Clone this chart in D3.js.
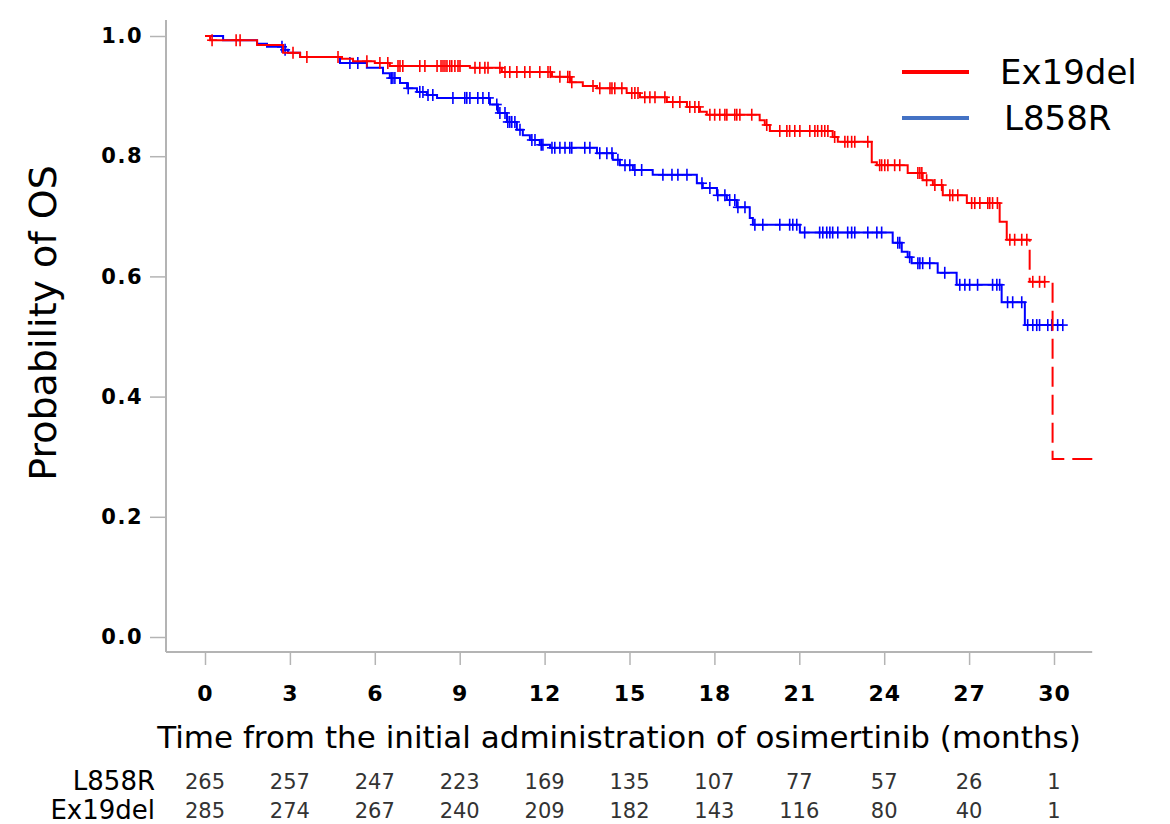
<!DOCTYPE html>
<html>
<head>
<meta charset="utf-8">
<script src="https://cdn.jsdelivr.net/npm/d3@7"></script>
<style>
  html, body { margin: 0; padding: 0; background: #fff; }
  svg { display: block; }
  text { font-family: "DejaVu Sans", Verdana, sans-serif; }
</style>
</head>
<body>
<svg id="chart" width="1170" height="824"></svg>
<script>
// ---------------- data ----------------
const monthTicks = [0, 3, 6, 9, 12, 15, 18, 21, 24, 27, 30];
const probTicks = [0, 0.2, 0.4, 0.6, 0.8, 1.0];

// Ex19del: [time (months), survival after event]
const ex19delSteps = [
  [0, 1.0], [0.18, 0.993], [1.84, 0.985], [2.76, 0.972], [3.36, 0.965],
  [4.84, 0.962], [5.23, 0.958], [6.0, 0.955], [6.53, 0.950], [9.36, 0.947],
  [10.49, 0.940], [12.26, 0.932], [12.9, 0.923], [13.35, 0.917], [13.85, 0.913],
  [14.9, 0.905], [15.37, 0.898], [16.32, 0.890], [17.03, 0.882], [17.49, 0.874],
  [17.73, 0.869], [19.6, 0.860], [19.78, 0.852], [19.96, 0.842], [22.18, 0.832],
  [22.36, 0.824], [23.56, 0.790], [23.74, 0.785], [24.83, 0.772], [25.36, 0.760],
  [25.72, 0.752], [26.07, 0.735], [26.92, 0.722], [28.08, 0.691], [28.33, 0.661]
];
const ex19delSolidEnd = 29.14;
const ex19delTail = [[29.14, 0.591], [29.95, 0.296]];
const ex19delEnd = 31.37;
const ex19delCensor = [
  0.25, 1.10, 1.24, 3.11, 3.60, 4.70, 5.72, 6.18, 6.46, 6.82, 6.89, 6.99, 7.59, 7.77,
  8.20, 8.34, 8.41, 8.48, 8.55, 8.65, 8.72, 8.83, 8.94, 9.01, 9.54, 9.71, 9.89, 10.00,
  10.42, 10.60, 10.77, 11.02, 11.30, 11.48, 11.83, 12.12, 12.20, 12.54, 12.82, 12.89,
  12.96, 13.71, 13.95, 14.31, 14.38, 14.48, 14.73, 15.08, 15.19, 15.30, 15.54, 15.72,
  15.90, 16.25, 16.53, 16.78, 17.13, 17.31, 17.45, 17.84, 18.01, 18.19, 18.37, 18.44,
  18.72, 18.79, 18.90, 19.32, 19.85, 20.31, 20.56, 20.66, 20.84, 21.02, 21.37, 21.55,
  21.65, 21.79, 21.90, 22.01, 22.25, 22.61, 22.71, 22.85, 22.96, 23.42, 23.84, 23.91,
  24.02, 24.13, 24.37, 24.55, 25.19, 25.26, 25.33, 25.50, 25.79, 26.03, 26.32, 26.42,
  26.60, 27.09, 27.20, 27.38, 27.66, 27.73, 27.83, 28.00, 28.44, 28.61, 28.86, 29.04,
  29.25, 29.49, 29.67
];

// L858R
const l858rSteps = [
  [0, 1.0], [0.64, 0.993], [1.84, 0.987], [2.19, 0.982], [2.76, 0.977], [2.93, 0.972],
  [3.36, 0.965], [4.77, 0.955], [5.72, 0.947], [6.29, 0.938], [6.53, 0.930],
  [6.89, 0.922], [7.14, 0.913], [7.49, 0.907], [7.84, 0.902], [8.20, 0.897],
  [10.07, 0.886], [10.35, 0.872], [10.67, 0.857], [11.02, 0.844], [11.23, 0.835],
  [11.48, 0.827], [11.83, 0.819], [12.19, 0.814], [13.85, 0.805], [14.41, 0.794],
  [14.66, 0.785], [15.12, 0.777], [15.82, 0.769], [17.38, 0.755], [17.59, 0.747],
  [18.09, 0.735], [18.44, 0.727], [18.79, 0.715], [19.25, 0.697], [19.36, 0.686],
  [21.02, 0.673], [24.30, 0.656], [24.62, 0.641], [24.83, 0.632], [24.97, 0.622],
  [25.89, 0.606], [26.56, 0.586], [28.15, 0.557], [28.97, 0.519]
];
const l858rEnd = 30.31;
const l858rCensor = [
  2.72, 2.83, 5.12, 5.40, 6.58, 6.64, 6.71, 7.18, 7.59, 7.70, 7.88, 8.05, 8.76, 9.18,
  9.25, 9.36, 9.64, 9.82, 10.03, 10.31, 10.42, 10.60, 10.70, 10.77, 10.84, 10.95,
  11.13, 11.55, 11.66, 11.88, 11.94, 12.26, 12.36, 12.54, 12.72, 12.89, 12.96, 13.42,
  13.60, 13.95, 14.20, 14.38, 14.59, 14.84, 15.01, 15.19, 15.43, 16.18, 16.50, 16.71,
  17.03, 17.56, 17.84, 18.12, 18.37, 18.54, 18.72, 18.83, 19.08, 19.43, 19.71, 20.31,
  20.66, 20.77, 20.91, 21.19, 21.72, 21.83, 21.97, 22.08, 22.18, 22.36, 22.71, 22.85,
  22.96, 23.42, 23.74, 23.91, 24.48, 24.55, 24.90, 25.19, 25.26, 25.36, 25.61, 26.14,
  26.67, 26.85, 27.02, 27.30, 27.83, 27.98, 28.08, 28.36, 28.54, 28.86, 29.07, 29.25,
  29.39, 29.49, 29.78, 29.92, 30.13, 30.31
];

const riskLabels = ["L858R", "Ex19del"];
const atRiskL858R = [265, 257, 247, 223, 169, 135, 107, 77, 57, 26, 1];
const atRiskEx19del = [285, 274, 267, 240, 209, 182, 143, 116, 80, 40, 1];

const legendNames = ["Ex19del", "L858R"];

// ---------------- drawing ----------------
const svg = d3.select("#chart");
const RED = "#ff0000", BLUE = "#0000ff", LEG_BLUE = "#4472c4", AXIS = "#b4b4b4";

const x = d3.scaleLinear().domain([0, 30]).range([205, 1054]);
const y = d3.scaleLinear().domain([0, 1]).range([637, 36]);

// axes
const yAxisX = 166, xAxisY = 652;
svg.append("line").attr("x1", yAxisX).attr("x2", yAxisX).attr("y1", 20).attr("y2", xAxisY)
  .attr("stroke", AXIS).attr("stroke-width", 2);
svg.append("line").attr("x1", yAxisX).attr("x2", x(31.35)).attr("y1", xAxisY).attr("y2", xAxisY)
  .attr("stroke", AXIS).attr("stroke-width", 2);

const yAxis = d3.axisLeft(y).tickValues(probTicks).tickFormat(d3.format(".1f"))
  .tickSize(16).tickPadding(7);
const gy = svg.append("g").attr("transform", `translate(${yAxisX},0)`).call(yAxis);
gy.select(".domain").remove();
gy.selectAll(".tick line").attr("stroke", AXIS).attr("stroke-width", 1.5);
gy.selectAll(".tick text").attr("font-size", 21).attr("font-weight", "bold")
  .attr("fill", "#000").style("letter-spacing", "1.5px")
  .attr("font-family", "'DejaVu Sans', Verdana, sans-serif");

const xAxis = d3.axisBottom(x).tickValues(monthTicks).tickFormat(d3.format("d"))
  .tickSize(13).tickPadding(20);
const gx = svg.append("g").attr("transform", `translate(0,${xAxisY})`).call(xAxis);
gx.select(".domain").remove();
gx.selectAll(".tick line").attr("stroke", AXIS).attr("stroke-width", 1.5);
gx.selectAll(".tick text").attr("font-size", 22).attr("font-weight", "bold")
  .attr("fill", "#000").style("letter-spacing", "1px")
  .attr("font-family", "'DejaVu Sans', Verdana, sans-serif");

// axis titles
svg.append("text").attr("x", 619).attr("y", 748).attr("text-anchor", "middle")
  .attr("font-size", 31).attr("fill", "#000")
  .text("Time from the initial administration of osimertinib (months)");
svg.append("text").attr("transform", "translate(56,323) rotate(-90)")
  .attr("text-anchor", "middle").attr("font-size", 38).attr("fill", "#000")
  .text("Probability of OS");

// curves
const stepLine = d3.line().x(d => x(d[0])).y(d => y(d[1])).curve(d3.curveStepAfter);

function survAt(steps, t) {
  const i = d3.bisector(d => d[0]).right(steps, t) - 1;
  return steps[Math.max(0, i)][1];
}

function drawCensor(steps, times, color) {
  const g = svg.append("g").attr("stroke", color).attr("stroke-width", 1.6);
  times.forEach(t => {
    const cx = x(t), cy = y(survAt(steps, t));
    g.append("line").attr("x1", cx).attr("x2", cx).attr("y1", cy - 6).attr("y2", cy + 6);
    g.append("line").attr("x1", cx - 5).attr("x2", cx + 5).attr("y1", cy).attr("y2", cy);
  });
}

// L858R (blue)
const blueData = l858rSteps.concat([[l858rEnd, l858rSteps[l858rSteps.length - 1][1]]]);
svg.append("path").datum(blueData).attr("d", stepLine)
  .attr("fill", "none").attr("stroke", BLUE).attr("stroke-width", 2);
drawCensor(l858rSteps, l858rCensor, BLUE);

// Ex19del (red) solid part
const redSolid = ex19delSteps.concat([[ex19delSolidEnd, ex19delSteps[ex19delSteps.length - 1][1]]]);
svg.append("path").datum(redSolid).attr("d", stepLine)
  .attr("fill", "none").attr("stroke", RED).attr("stroke-width", 2);
// dashed tail
const lastSolid = ex19delSteps[ex19delSteps.length - 1];
const redTail = [[ex19delSolidEnd, lastSolid[1]]].concat(ex19delTail)
  .concat([[ex19delEnd, ex19delTail[ex19delTail.length - 1][1]]]);
svg.append("path").datum(redTail).attr("d", stepLine)
  .attr("fill", "none").attr("stroke", RED).attr("stroke-width", 2)
  .attr("stroke-dasharray", "20,8").attr("stroke-dashoffset", -10);
const redAll = ex19delSteps.concat(ex19delTail);
drawCensor(redAll, ex19delCensor, RED);

// legend
const legend = svg.append("g");
const legColors = [RED, LEG_BLUE];
const legY = [72, 118];
legendNames.forEach((name, i) => {
  legend.append("line").attr("x1", 902).attr("x2", 969).attr("y1", legY[i]).attr("y2", legY[i])
    .attr("stroke", legColors[i]).attr("stroke-width", 4);
  legend.append("text").attr("x", i === 0 ? 1000 : 1004).attr("y", legY[i] + 12)
    .attr("font-size", 34).attr("fill", "#000").text(name);
});

// number at risk
const riskRows = [atRiskL858R, atRiskEx19del];
const riskY = [790, 819];
riskRows.forEach((row, r) => {
  svg.append("text").attr("x", 155).attr("y", riskY[r]).attr("text-anchor", "end")
    .attr("font-size", 26).attr("fill", "#000").text(riskLabels[r]);
  svg.append("g").selectAll("text").data(row).join("text")
    .attr("x", (d, i) => x(monthTicks[i])).attr("y", riskY[r] - 1)
    .attr("text-anchor", "middle").attr("font-size", 21).attr("fill", "#333")
    .text(d => d);
});
</script>
</body>
</html>
